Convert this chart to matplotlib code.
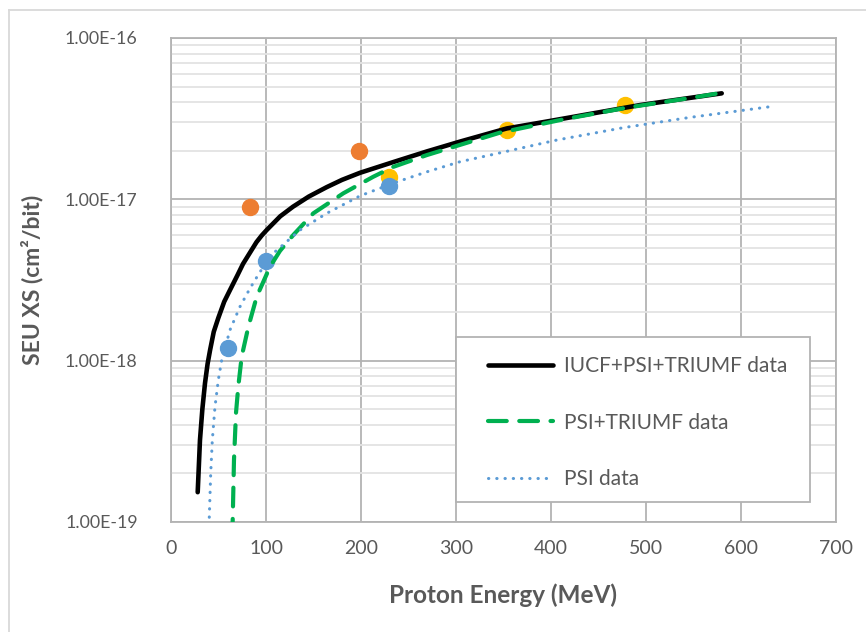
import numpy as np
import matplotlib
matplotlib.use('Agg')
from matplotlib import pyplot as plt
from matplotlib.lines import Line2D
from matplotlib.patches import Rectangle

# Fit curves (energy in MeV, cross section in cm^2/bit)
all_e = [28.1, 30.5, 33.0, 35.8, 38.5, 41.1, 45.0, 49.8, 56.0, 62.1, 70.0, 75.8, 83.2,
         90.0, 95.5, 100.7, 115, 128.4, 145, 163.9, 180, 198.9, 233.7, 269.2, 304.2,
         353.4, 398.9, 493.7, 579.7]
all_xs = [1.53e-19, 3.22e-19, 5.0e-19, 7.26e-19, 9.55e-19, 1.16e-18, 1.51e-18, 1.84e-18,
          2.32e-18, 2.74e-18, 3.39e-18, 3.98e-18, 4.68e-18, 5.43e-18, 5.97e-18, 6.45e-18,
          7.85e-18, 9.0e-18, 1.04e-17, 1.19e-17, 1.32e-17, 1.46e-17, 1.70e-17, 1.98e-17,
          2.28e-17, 2.75e-17, 3.06e-17, 3.84e-17, 4.54e-17]

pt_e = [64.6, 64.9, 66.3, 68.4, 70.8, 74.4, 81.4, 90.2, 104.2, 114.7, 128.7, 149.8, 181.4,
        212.9, 234.0, 269.2, 311.3, 346.3, 413.0, 479.7, 553.4, 579.0]
pt_xs = [8.0e-20, 1.0e-19, 2.42e-19, 4.73e-19, 6.89e-19, 1.06e-18, 1.62e-18, 2.49e-18,
         3.82e-18, 4.79e-18, 6.01e-18, 8.19e-18, 1.09e-17, 1.38e-17, 1.59e-17, 1.88e-17,
         2.24e-17, 2.59e-17, 3.13e-17, 3.70e-17, 4.31e-17, 4.57e-17]

psi_e = [40.3, 41.8, 43.5, 46.3, 49.8, 53.4, 62.1, 72.6, 83.2, 93.7, 107.7, 135.8, 163.9,
         198.9, 234.0, 269.2, 304.2, 335.8, 406.0, 476.1, 546.3, 630.5]
psi_xs = [1.07e-19, 2.0e-19, 3.22e-19, 5.18e-19, 7.59e-19, 1.01e-18, 1.55e-18, 2.16e-18,
          2.81e-18, 3.55e-18, 4.63e-18, 6.45e-18, 8.19e-18, 1.05e-17, 1.26e-17, 1.48e-17,
          1.71e-17, 1.88e-17, 2.33e-17, 2.78e-17, 3.22e-17, 3.75e-17]

# Measured points
iucf_e = [83, 198]
iucf_xs = [9.0e-18, 2.0e-17]
triumf_e = [229.5, 353.4, 478]
triumf_xs = [1.38e-17, 2.69e-17, 3.84e-17]
psi_pt_e = [60.3, 100, 229.8]
psi_pt_xs = [1.19e-18, 4.16e-18, 1.21e-17]

plt.rcParams['font.family'] = ['Lato', 'DejaVu Sans']
txt = '#595959'
W, H = 866, 632
x0, x1, y0, y1 = 171, 836, 38, 522   # plot area in pixels

fig = plt.figure(figsize=(W/100, H/100), dpi=100)
ax = fig.add_axes([x0/W, 1-y1/H, (x1-x0)/W, (y1-y0)/H])

ax.set_yscale('log')
ax.set_xlim(0, 700)
ax.set_ylim(1e-19, 1e-16)

ax.grid(True, which='major', color='#b3b3b3', lw=1.3)
ax.grid(True, which='minor', axis='y', color='#e3e3e3', lw=1.3)
ax.set_axisbelow(True)
for s in ax.spines.values():
    s.set_color('#b3b3b3')
    s.set_linewidth(1.3)

ax.plot(iucf_e, iucf_xs, 'o', color='#ED7D31', ms=11.5, zorder=3)
ax.plot(triumf_e, triumf_xs, 'o', color='#FFC000', ms=11.5, zorder=3)
ax.plot(psi_pt_e, psi_pt_xs, 'o', color='#5B9BD5', ms=11.5, zorder=3)

ax.plot(all_e, all_xs, '-', color='black', lw=3.3, solid_capstyle='round', zorder=4)
ax.plot(pt_e, pt_xs, '--', color='#00B050', lw=3, dashes=(4.5, 3), dash_capstyle='round', zorder=5)
ax.plot(psi_e, psi_xs, ':', color='#5B9BD5', lw=2.2, dashes=(0.1, 2.6), dash_capstyle='round', zorder=5)

ax.set_xticks(range(0, 701, 100))
ax.set_yticks([1e-19, 1e-18, 1e-17, 1e-16])
ax.set_yticklabels(['1.00E-19', '1.00E-18', '1.00E-17', '1.00E-16'])
ax.yaxis.set_minor_formatter(matplotlib.ticker.NullFormatter())
ax.tick_params(which='both', length=0, colors=txt)
ax.tick_params(axis='x', labelsize=14, pad=13)
ax.tick_params(axis='y', labelsize=12.8, pad=24)

ax.set_xlabel('Proton Energy (MeV)', fontsize=17.5, fontweight='bold', color=txt)
ax.set_ylabel('SEU XS (cm²/bit)', fontsize=16.5, fontweight='bold', color=txt)
ax.xaxis.set_label_coords(0.5, -(583-y1)/(y1-y0))
ax.yaxis.set_label_coords((43-x0)/(x1-x0), 0.5)

# legend frame drawn by hand, legend itself unframed
ax.add_patch(Rectangle(((456-x0)/(x1-x0), (y1-502)/(y1-y0)), 354/(x1-x0), 165/(y1-y0),
                       transform=ax.transAxes, facecolor='white', edgecolor='#b3b3b3',
                       lw=1.3, zorder=6))
handles = [Line2D([], [], color='black', lw=3.3, solid_capstyle='round'),
           Line2D([], [], color='#00B050', lw=3, ls='--', dashes=(4.5, 3), dash_capstyle='round'),
           Line2D([], [], color='#5B9BD5', lw=2.2, ls=':', dashes=(0.1, 2.6), dash_capstyle='round')]
labels = ['IUCF+PSI+TRIUMF data', 'PSI+TRIUMF data', 'PSI data']
leg = ax.legend(handles, labels, loc='upper left',
                bbox_to_anchor=((488-x0)/(x1-x0), (y1-356)/(y1-y0)),
                fontsize=15, frameon=False, labelspacing=1.76, handlelength=3.1,
                borderpad=0, handletextpad=0.55, borderaxespad=0)
leg.set_zorder(7)
for t in leg.get_texts():
    t.set_color(txt)

# chart area border
fig.add_artist(Line2D([9/W, 9/W], [0, 1-10/H], color='#d9d9d9', lw=1.3))
fig.add_artist(Line2D([9/W, 1], [1-10/H, 1-10/H], color='#d9d9d9', lw=1.3))

fig.savefig('out.png', dpi=100)
